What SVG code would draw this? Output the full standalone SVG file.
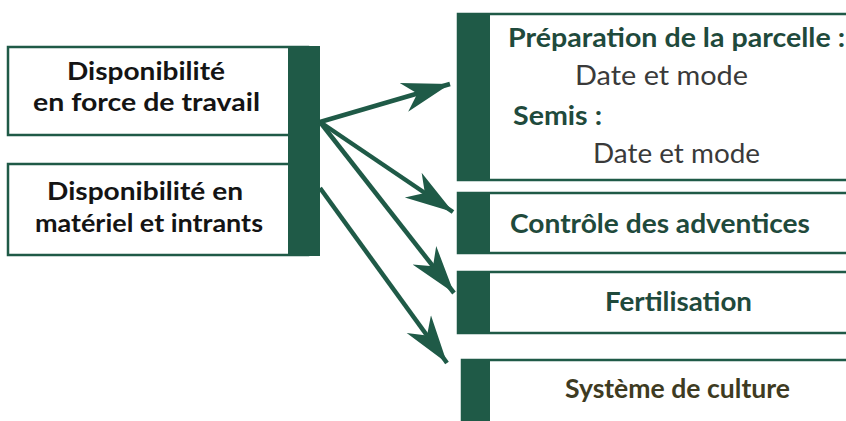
<svg xmlns="http://www.w3.org/2000/svg" width="846" height="421" viewBox="0 0 846 421">
<defs>
<style>
.box{fill:#fff;stroke:#1f5a47;stroke-width:2.5}
.bar{fill:#1f5a47}
.lt{font-family:Lato,"Open Sans","Liberation Sans",sans-serif;font-weight:bold;font-size:25px;fill:#141414}
.rt{font-family:Lato,"Open Sans","Liberation Sans",sans-serif;font-weight:bold;font-size:27px;fill:#1f4a3c}
.rg{font-family:Lato,"Open Sans","Liberation Sans",sans-serif;font-weight:normal;font-size:26px;fill:#3a3a3a}
.ar{stroke:#1f5a47;stroke-width:4.5;fill:none}
</style>
<marker id="ah" markerWidth="50" markerHeight="34" refX="48" refY="17" orient="auto" markerUnits="userSpaceOnUse">
<path d="M0,2 L48,17 L0,32 L14,17 Z" fill="#1f5a47"/>
</marker>
</defs>
<rect width="846" height="421" fill="#fff"/>
<g id="left1">
<rect class="box" x="8" y="47" width="300" height="88"/>
<text class="lt" x="67" y="80" textLength="158" lengthAdjust="spacingAndGlyphs">Disponibilité</text>
<text class="lt" x="33" y="111" textLength="227" lengthAdjust="spacingAndGlyphs">en force de travail</text>
</g>
<g id="left2">
<rect class="box" x="8" y="164" width="300" height="91"/>
<text class="lt" x="47" y="200" textLength="196" lengthAdjust="spacingAndGlyphs">Disponibilité en</text>
<text class="lt" x="35" y="232" textLength="228" lengthAdjust="spacingAndGlyphs">matériel et intrants</text>
</g>
<rect id="leftbar" class="bar" x="288" y="46" width="32" height="210"/>
<g id="prep">
<rect class="box" x="458" y="14" width="400" height="166"/>
<rect class="bar" x="458" y="14" width="32" height="166"/>
<text class="rt" x="508" y="47" textLength="337" lengthAdjust="spacingAndGlyphs">Préparation de la parcelle :</text>
<text class="rg" x="575" y="85" textLength="173" lengthAdjust="spacingAndGlyphs">Date et mode</text>
<text class="rt" x="513" y="125" textLength="89" lengthAdjust="spacingAndGlyphs">Semis :</text>
<text class="rg" x="593" y="163" textLength="167" lengthAdjust="spacingAndGlyphs">Date et mode</text>
</g>
<g id="controle">
<rect class="box" x="458" y="193" width="400" height="60"/>
<rect class="bar" x="458" y="193" width="32" height="60"/>
<text class="rt" x="510" y="233" textLength="300" lengthAdjust="spacingAndGlyphs">Contrôle des adventices</text>
</g>
<g id="fert">
<rect class="box" x="458" y="272" width="400" height="61"/>
<rect class="bar" x="458" y="272" width="32" height="61"/>
<text class="rt" x="605" y="311" textLength="147" lengthAdjust="spacingAndGlyphs">Fertilisation</text>
</g>
<g id="systeme">
<rect class="box" x="462" y="360" width="400" height="80"/>
<rect class="bar" x="462" y="360" width="28" height="80"/>
<text class="rt" x="565" y="398" textLength="225" lengthAdjust="spacingAndGlyphs" style="fill:#3e3b22">Système de culture</text>
</g>
<g id="connectors">
<line class="ar" x1="320" y1="122" x2="450" y2="84" marker-end="url(#ah)"/>
<line class="ar" x1="320" y1="122" x2="453" y2="212" marker-end="url(#ah)"/>
<line class="ar" x1="320" y1="122" x2="454" y2="293" marker-end="url(#ah)"/>
<line class="ar" x1="320" y1="188" x2="447" y2="363" marker-end="url(#ah)"/>
</g>
</svg>
